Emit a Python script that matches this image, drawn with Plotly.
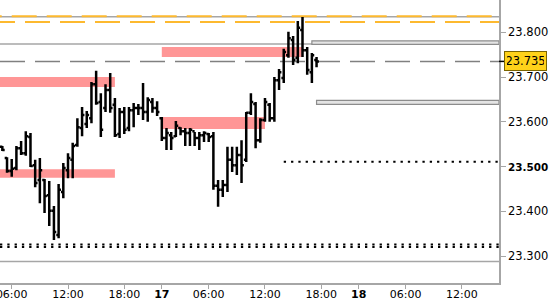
import pandas as pd
import plotly.graph_objects as go

# ---------------- data ----------------
# 30-minute bars: two sessions (the hours 22:00-01:00 are not traded / hidden)
session_starts = ["2024-04-16 05:00", "2024-04-17 01:00"]
session_ends = ["2024-04-16 21:30", "2024-04-17 17:30"]

opens = [23.544, 23.519, 23.490, 23.497, 23.541, 23.530, 23.566, 23.503, 23.470, 23.470,
         23.436, 23.401, 23.347, 23.443, 23.492, 23.515, 23.548, 23.586, 23.595, 23.608,
         23.684, 23.644, 23.631, 23.671, 23.638, 23.573, 23.622, 23.586, 23.626, 23.631,
         23.631, 23.622, 23.644, 23.631,
         23.608, 23.564, 23.570, 23.568, 23.586, 23.579, 23.575, 23.579, 23.564, 23.570,
         23.573, 23.568, 23.457, 23.448, 23.459, 23.515, 23.503, 23.526, 23.515, 23.620,
         23.640, 23.559, 23.604, 23.638, 23.608, 23.693, 23.698, 23.749, 23.783, 23.743,
         23.805, 23.760, 23.711, 23.738]
highs = [23.546, 23.521, 23.517, 23.546, 23.557, 23.579, 23.575, 23.515, 23.519, 23.472,
         23.468, 23.412, 23.461, 23.508, 23.530, 23.553, 23.608, 23.633, 23.624, 23.689,
         23.714, 23.664, 23.684, 23.709, 23.653, 23.631, 23.633, 23.633, 23.642, 23.640,
         23.687, 23.655, 23.653, 23.646,
         23.611, 23.586, 23.577, 23.602, 23.588, 23.586, 23.586, 23.577, 23.577, 23.579,
         23.575, 23.577, 23.470, 23.470, 23.544, 23.544, 23.544, 23.559, 23.622, 23.664,
         23.644, 23.608, 23.653, 23.642, 23.700, 23.718, 23.763, 23.801, 23.792, 23.825,
         23.834, 23.767, 23.754, 23.745]
lows = [23.535, 23.486, 23.477, 23.492, 23.526, 23.524, 23.499, 23.454, 23.418, 23.396,
        23.367, 23.336, 23.340, 23.429, 23.474, 23.474, 23.544, 23.568, 23.586, 23.597,
        23.638, 23.566, 23.622, 23.620, 23.566, 23.564, 23.573, 23.579, 23.588, 23.615,
        23.604, 23.600, 23.620, 23.613,
        23.557, 23.537, 23.537, 23.566, 23.570, 23.546, 23.546, 23.546, 23.537, 23.555,
        23.555, 23.448, 23.410, 23.432, 23.443, 23.488, 23.481, 23.463, 23.510, 23.615,
        23.541, 23.553, 23.600, 23.600, 23.600, 23.671, 23.687, 23.743, 23.727, 23.731,
        23.745, 23.705, 23.687, 23.722]
closes = [23.537, 23.490, 23.495, 23.541, 23.530, 23.568, 23.501, 23.463, 23.492, 23.434,
          23.401, 23.354, 23.448, 23.497, 23.519, 23.546, 23.588, 23.615, 23.615, 23.684,
          23.642, 23.582, 23.671, 23.631, 23.570, 23.622, 23.582, 23.626, 23.631, 23.631,
          23.622, 23.649, 23.631, 23.622,
          23.564, 23.575, 23.564, 23.591, 23.579, 23.575, 23.582, 23.564, 23.570, 23.575,
          23.566, 23.457, 23.448, 23.459, 23.515, 23.503, 23.526, 23.503, 23.620, 23.644,
          23.559, 23.604, 23.644, 23.608, 23.693, 23.711, 23.756, 23.787, 23.738, 23.810,
          23.760, 23.716, 23.749, 23.735]

last_price = 23.735

# x-axis ticks
tick_times = ["2024-04-16 06:00", "2024-04-16 12:00", "2024-04-16 18:00", "2024-04-17 01:00",
              "2024-04-17 06:00", "2024-04-17 12:00", "2024-04-17 18:00", "2024-04-18 01:00",
              "2024-04-18 06:00", "2024-04-18 12:00"]
tick_labels = ["06:00", "12:00", "18:00", "<b>17</b>", "06:00", "12:00", "18:00", "<b>18</b>",
               "06:00", "12:00"]
x_view = ["2024-04-16 04:45", "2024-04-18 15:57"]

# y-axis ticks
y_ticks = [23.3, 23.4, 23.5, 23.6, 23.7, 23.8]
y_tick_labels = ["23.300", "23.400", "<b><span style='font-size:10.4px'>23.500</span></b>",
                 "23.600", "23.700", "23.800"]
y_view = [23.2398, 23.8722]

# supply / demand zones (pink)
zone_starts = ["2024-04-16 04:00", "2024-04-17 01:00", "2024-04-16 04:00", "2024-04-17 01:00"]
zone_ends = ["2024-04-16 17:00", "2024-04-17 16:00", "2024-04-16 17:00", "2024-04-17 12:00"]
zone_lows = [23.678, 23.745, 23.475, 23.584]
zone_highs = [23.700, 23.767, 23.494, 23.611]

# full-width horizontal levels
gray_levels = [23.835, 23.774, 23.288]
orange_levels = [23.836, 23.823]
dotted_full_levels = [23.326, 23.320]
dotted_part_level = 23.511
dotted_part_start = "2024-04-17 14:00"

# small gray boxes on the right
box_starts = ["2024-04-17 17:00", "2024-04-17 17:30"]
box_lows = [23.773, 23.639]
box_highs = [23.781, 23.648]

# ---------------- helpers ----------------
REF = pd.Timestamp("2024-04-16 06:00")


def axis_pos(ts):
    """hours since REF with the 22:00-01:00 gap removed"""
    ts = pd.Timestamp(ts)
    hours = (ts - REF).total_seconds() / 3600.0
    days = (ts.normalize() - REF.normalize()).days
    gaps = days if ts.hour >= 1 else max(days - 1, 0)
    if ts.hour >= 22:
        hours -= (ts.hour + ts.minute / 60 - 22)
    return hours - 3 * gaps


bar_times = []
for s, e in zip(session_starts, session_ends):
    bar_times += list(pd.date_range(s, e, freq="30min"))
bar_x = [axis_pos(t) for t in bar_times]

fig = go.Figure()

fig.add_trace(go.Ohlc(
    x=bar_x, open=opens, high=highs, low=lows, close=closes,
    increasing=dict(line=dict(color="#000000", width=2.5)),
    decreasing=dict(line=dict(color="#000000", width=2.5)),
    tickwidth=0.5, showlegend=False, hoverinfo="skip",
))

shapes = []
for s, e, lo, hi in zip(zone_starts, zone_ends, zone_lows, zone_highs):
    shapes.append(dict(type="rect", xref="x", yref="y", x0=axis_pos(s), x1=axis_pos(e),
                       y0=lo, y1=hi, fillcolor="#FF9696", line=dict(width=0), layer="below"))

for lv in gray_levels:
    shapes.append(dict(type="line", xref="paper", yref="y", x0=0, x1=1, y0=lv, y1=lv,
                       line=dict(color="#A6A6A6", width=1.5), layer="below"))

shapes.append(dict(type="line", xref="paper", yref="y", x0=0, x1=1,
                   y0=orange_levels[0], y1=orange_levels[0],
                   line=dict(color="#FDB92F", width=2, dash="1.7px,10px,23.3px,0px"), layer="below"))
shapes.append(dict(type="line", xref="paper", yref="y", x0=0, x1=1,
                   y0=orange_levels[1], y1=orange_levels[1],
                   line=dict(color="#FDB92F", width=2, dash="15px,10px,10px,0px"), layer="below"))

shapes.append(dict(type="line", xref="paper", yref="y", x0=0, x1=1,
                   y0=last_price, y1=last_price,
                   line=dict(color="#808080", width=1.5, dash="25px,10px"), layer="below"))

for lv in dotted_full_levels:
    shapes.append(dict(type="line", xref="paper", yref="y", x0=0, x1=1, y0=lv, y1=lv,
                       line=dict(color="#000000", width=2, dash="2.3px,5px"), layer="below"))
shapes.append(dict(type="line", xref="x", yref="y", x0=axis_pos(dotted_part_start),
                   x1=axis_pos(x_view[1]), y0=dotted_part_level, y1=dotted_part_level,
                   line=dict(color="#000000", width=2, dash="2.3px,5px"), layer="below"))

for s, lo, hi in zip(box_starts, box_lows, box_highs):
    shapes.append(dict(type="rect", xref="x", yref="y", x0=axis_pos(s), x1=axis_pos(x_view[1]),
                       y0=lo, y1=hi, fillcolor="#E4E4E4",
                       line=dict(color="#8C8C8C", width=1.2), layer="below"))

# black tick for the last price on the axis
shapes.append(dict(type="line", xref="paper", yref="y", x0=1, x1=1.011,
                   y0=last_price, y1=last_price, line=dict(color="#000000", width=1.5)))

fig.update_layout(
    width=550, height=300,
    margin=dict(l=0, r=51, t=0, b=17, autoexpand=False),
    paper_bgcolor="white", plot_bgcolor="white",
    font=dict(family="DejaVu Sans", size=11.5, color="#000000"),
    shapes=shapes,
    xaxis=dict(
        range=[axis_pos(x_view[0]), axis_pos(x_view[1])],
        tickmode="array", tickvals=[axis_pos(t) for t in tick_times], ticktext=tick_labels,
        showgrid=False, zeroline=False, showline=True, linecolor="#A6A6A6", linewidth=1.5,
        ticks="outside", ticklen=4, tickcolor="#A6A6A6", tickwidth=1,
        rangeslider=dict(visible=False), fixedrange=True, automargin=False,
        ticklabeloverflow="allow", ticklabelstandoff=-4,
        tickfont=dict(size=11, color="#000000"),
    ),
    yaxis=dict(
        side="right", range=y_view,
        tickmode="array", tickvals=y_ticks, ticktext=y_tick_labels,
        showgrid=False, zeroline=False, showline=True, linecolor="#A6A6A6", linewidth=1.5,
        ticks="outside", ticklen=5, tickcolor="#A6A6A6", tickwidth=1, automargin=False,
        tickfont=dict(size=11.5, color="#000000"),
    ),
    annotations=[dict(
        xref="paper", yref="y", x=1, y=last_price, xanchor="left", yanchor="middle",
        xshift=5, text=f"{last_price:.3f}", showarrow=False,
        bgcolor="#FFD21A", bordercolor="#7A6400", borderwidth=1, borderpad=2,
        width=37, height=14, font=dict(size=11.5, color="#000000"),
    )],
)

fig.write_html("out.html")
